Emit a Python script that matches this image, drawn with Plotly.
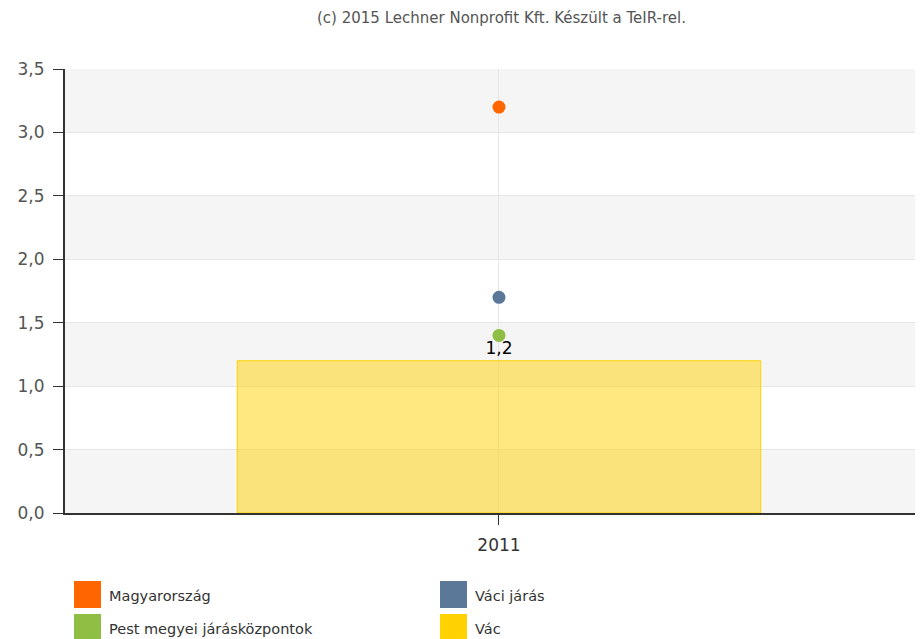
import plotly.graph_objects as go

# data
years = ["2011"]
bar_name = "Vác"
bar_values = [1.2]
point_names = ["Magyarország", "Váci járás", "Pest megyei járásközpontok"]
point_values = [[3.2], [1.7], [1.4]]
point_colors = ["#ff6600", "#5c7899", "#8fbe45"]
bar_color = "#ffd200"
y_ticks = [0, 0.5, 1.0, 1.5, 2.0, 2.5, 3.0, 3.5]
legend_names = ["Magyarország", "Váci járás", "Pest megyei járásközpontok", "Vác"]
legend_colors = ["#ff6600", "#5c7899", "#8fbe45", "#ffd200"]

# page body has an 8px margin, so work in page pixels minus that offset
OFF = 8
W, H = 923 - OFF, 639 - OFF
L, R, T = 65 - OFF, 0, 69 - OFF
B = H - (513 - OFF)
pw, ph = W - L - R, H - T - B
FONT = "DejaVu Sans, Verdana, sans-serif"


def px_x(x):
    return (x - OFF - L) / pw


def px_y(y):
    return (H - B - (y - OFF)) / ph


fig = go.Figure()
fig.add_trace(go.Bar(x=years, y=bar_values, name=bar_name, width=0.61,
                     marker=dict(color="rgba(255,210,0,0.5)",
                                 line=dict(color=bar_color, width=1)),
                     texttemplate="%{y:.1f}", textposition="outside",
                     textfont=dict(family=FONT, size=17, color="#000"),
                     cliponaxis=False, showlegend=False))
for name, vals, col in zip(point_names, point_values, point_colors):
    fig.add_trace(go.Scatter(x=years, y=vals, name=name, mode="markers",
                             marker=dict(color=col, size=13),
                             showlegend=False))

# alternating bands
shapes = []
for i in range(0, len(y_ticks) - 1, 2):
    shapes.append(dict(type="rect", xref="paper", yref="y", x0=0, x1=1,
                       y0=y_ticks[i], y1=y_ticks[i + 1], layer="below",
                       fillcolor="#f5f5f5", line=dict(width=0)))

# legend drawn manually
annotations = []
cols_px = [74, 440]
rows_px = [581, 614]
for k, (name, col) in enumerate(zip(legend_names, legend_colors)):
    x0 = cols_px[k % 2]
    y0 = rows_px[k // 2]
    shapes.append(dict(type="rect", xref="paper", yref="paper",
                       x0=px_x(x0), x1=px_x(x0 + 27),
                       y0=px_y(y0 + 27), y1=px_y(y0),
                       fillcolor=col, line=dict(width=0)))
    annotations.append(dict(xref="paper", yref="paper", x=px_x(x0 + 33),
                            y=px_y(y0 + 15), text=name, showarrow=False,
                            xanchor="left", yanchor="middle",
                            font=dict(family=FONT, size=14.5, color="#333")))

annotations.append(dict(xref="paper", yref="paper", x=px_x(501), y=px_y(18),
                        text="(c) 2015 Lechner Nonprofit Kft. Készült a TeIR-rel.",
                        showarrow=False, xanchor="center", yanchor="middle",
                        font=dict(family=FONT, size=15, color="#555")))

fig.update_layout(width=W, height=H, margin=dict(l=L, r=R, t=T, b=B),
                  plot_bgcolor="white", paper_bgcolor="white",
                  separators=", ", shapes=shapes, annotations=annotations,
                  showlegend=False)
fig.update_xaxes(type="category", range=[-0.5058, 0.4942], showgrid=True,
                 gridcolor="#e6e6e6", showline=True, linecolor="#333",
                 linewidth=2, ticks="outside", ticklen=10, tickcolor="#333",
                 ticklabelstandoff=6,
                 tickfont=dict(family=FONT, size=17, color="#333"))
fig.update_yaxes(range=[0, 3.5], tickvals=y_ticks, tickformat=".1f",
                 showgrid=True, gridcolor="#e6e6e6", showline=True,
                 linecolor="#333", linewidth=2, ticks="outside", ticklen=10,
                 tickcolor="#333", zeroline=False, ticklabelstandoff=5,
                 tickfont=dict(family=FONT, size=17, color="#555"))

fig.write_html("out.html")
